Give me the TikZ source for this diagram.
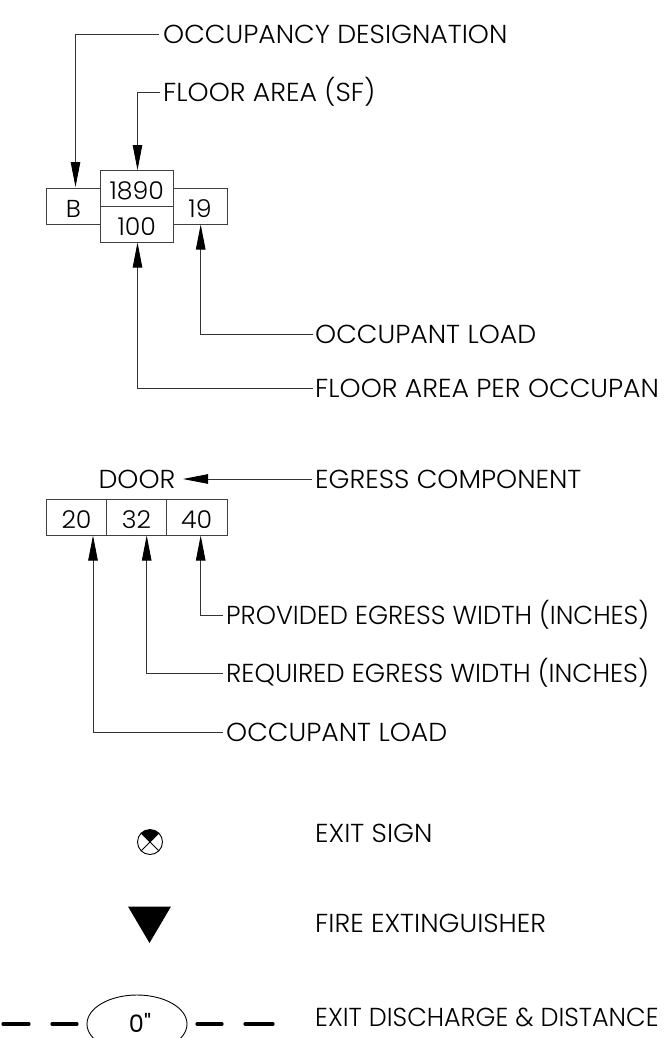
\documentclass[tikz,border=0pt]{standalone}
\usepackage{fontspec}
\usepackage{graphicx}
\setmainfont{Poppins Light}[FakeStretch=1.03]
\newfontfamily\zerofont{Poppins}
\usetikzlibrary{arrows.meta}
\tikzset{
  lbl/.style={anchor=west,inner sep=0pt,font=\fontsize{26}{28}\selectfont},
  cell/.style={draw=black!75,line width=0.8pt,inner sep=0pt,font=\fontsize{24.5}{28}\selectfont,text height=22pt,text depth=0pt},
  lead/.style={line width=0.8pt,black!80,-{Triangle[length=25pt,width=9.5pt,black]}},
  thickdash/.style={line width=3.2pt,line cap=round}
}
\begin{document}
\begin{tikzpicture}[x=1pt,y=-1pt]
\useasboundingbox (0,0) rectangle (664,1038);
\clip (0,0) rectangle (664,1038);
% first tag
\node[cell,minimum width=54pt,minimum height=36pt] (b) at (73.5,206) {B};
\node[cell,minimum width=54pt,minimum height=36pt] (load) at (200,206) {19};
\node[cell,minimum width=72.5pt,minimum height=36pt] (area) at (136.75,188) {1890};
\node[cell,minimum width=72.5pt,minimum height=36pt] (per) at (136.75,224) {100};
\node[lbl] (ldes) at (163,34) {OCCUPANCY DESIGNATION};
\node[lbl] (lfa) at (163,92) {FLOOR AREA (SF)};
\node[lbl] (lol) at (315,334) {OCCUPANT LOAD};
\node[lbl] (lfp) at (315,388) {FLOOR AREA PER OCCUPAN};
\coordinate (tb) at (75.5,187);
\coordinate (ta) at (137.5,170);
\coordinate (tp) at (137.5,242.5);
\coordinate (tl) at (200.7,224.5);
\draw[lead] ([xshift=-4pt]ldes.west) -| (tb);
\draw[lead] ([xshift=-3pt]lfa.west) -| (ta);
\draw[lead] ([xshift=-2pt]lol.west) -| (tl);
\draw[lead] ([xshift=-2pt]lfp.west) -| (tp);
% second tag
\node[lbl,anchor=center] (door) at (137,479) {DOOR};
\node[lbl] (lec) at (315,479) {EGRESS COMPONENT};
\node[cell,minimum width=60pt,minimum height=36pt] (c1) at (76.5,517) {20};
\node[cell,minimum width=60pt,minimum height=36pt] (c2) at (136.5,517) {32};
\node[cell,minimum width=60.5pt,minimum height=36pt] (c3) at (196.75,517) {40};
\node[lbl] (lpr) at (226,615) {\scalebox{.96}[1]{PROVIDED EGRESS WIDTH (INCHES)}};
\node[lbl] (lre) at (226,673) {\scalebox{.97}[1]{REQUIRED EGRESS WIDTH (INCHES)}};
\node[lbl] (loc) at (226,732) {OCCUPANT LOAD};
\coordinate (t1) at (93,535.5);
\coordinate (t2) at (146.7,535.5);
\coordinate (t3) at (200.7,535.5);
\coordinate (td) at (183,479);
\draw[lead] ([xshift=-3pt]lec.west) -- (td);
\draw[lead] ([xshift=-3pt]lpr.west) -| (t3);
\draw[lead] ([xshift=-3pt]lre.west) -| (t2);
\draw[lead] ([xshift=-3pt]loc.west) -| (t1);
% legend
\node[lbl] (lex) at (315,833) {EXIT SIGN};
\node[lbl] (lfe) at (315,923) {FIRE EXTINGUISHER};
\node[lbl] (ldi) at (315,1017) {\scalebox{.95}[1]{EXIT DISCHARGE \& DISTANCE}};
\fill (150,842) -- ++(-8.8,-8.8) arc (225:315:12.5) -- cycle;
\draw[line width=0.9pt] (150,842) circle (12.5pt);
\draw[line width=0.9pt] (141.2,833.2) -- (158.8,850.8) (158.8,833.2) -- (141.2,850.8);
\fill (128,906.5) -- (171,906.5) -- (149.5,943) -- cycle;
\draw[thickdash] (3,1024) -- (29,1024) (52,1024) -- (77,1024) (197,1024) -- (222,1024) (245,1024) -- (273,1024);
\draw[line width=0.9pt] (137,1024) ellipse (50pt and 29pt);
\node[inner sep=0pt,font=\zerofont\fontsize{24}{24}\selectfont,text depth=0pt] (zero) at (140,1023) {0"};
\end{tikzpicture}
\end{document}
